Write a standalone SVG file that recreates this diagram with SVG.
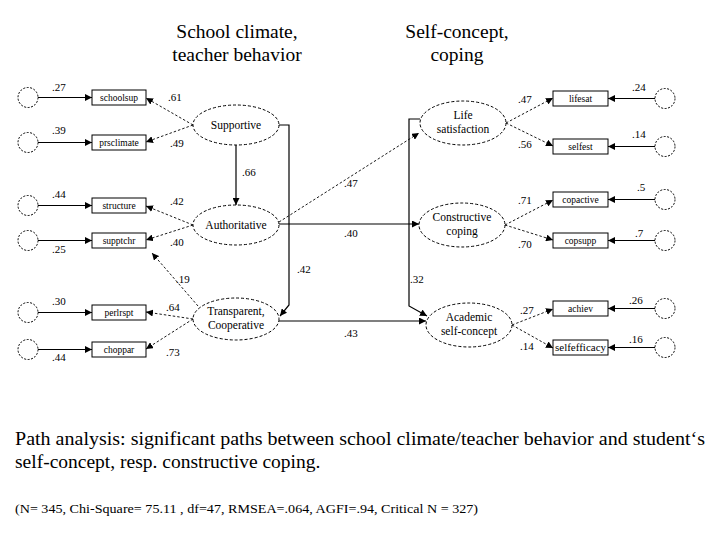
<svg xmlns="http://www.w3.org/2000/svg" width="720" height="540" viewBox="0 0 720 540" font-family="Liberation Serif, serif">
<defs>
<marker id="ah" viewBox="0 0 10 10" refX="10" refY="5" markerWidth="7" markerHeight="7" markerUnits="userSpaceOnUse" orient="auto"><path d="M0,0 L10,5 L0,10 z" fill="#000"/></marker>
</defs>
<style>
.err{fill:none;stroke:#000;stroke-width:1;stroke-dasharray:2,1.5}
.box{fill:#fff;stroke:#000;stroke-width:1}
.lat{fill:#fff;stroke:#000;stroke-width:1;stroke-dasharray:3,2}
.sl{fill:none;stroke:#000;stroke-width:1.2;marker-end:url(#ah)}
.dl{fill:none;stroke:#000;stroke-width:0.9;stroke-dasharray:2.5,2;marker-end:url(#ah)}
.bt{font-size:9.5px;text-anchor:middle}
.lt{font-size:11.5px;text-anchor:middle}
.ct{font-size:11px}
.ti{font-size:19.5px;text-anchor:middle}
.cap{font-size:19.5px}
.st{font-size:13.5px}
</style>
<rect width="720" height="540" fill="#fff"/>
<g id="titles" font-family="Liberation Serif, serif">
<text class="ti" x="237" y="38">School climate,</text>
<text class="ti" x="237" y="61">teacher behavior</text>
<text class="ti" x="457" y="38">Self-concept,</text>
<text class="ti" x="457" y="61">coping</text>
</g>

<g id="connectors">
<line class="sl" x1="38" y1="97.5" x2="92" y2="97.5"/>
<line class="sl" x1="38" y1="142.5" x2="92" y2="142.5"/>
<line class="sl" x1="38" y1="205.5" x2="92" y2="205.5"/>
<line class="sl" x1="38" y1="240.5" x2="92" y2="240.5"/>
<line class="sl" x1="38" y1="312.5" x2="92" y2="312.5"/>
<line class="sl" x1="38" y1="349.5" x2="92" y2="349.5"/>
<line class="sl" x1="655" y1="98.5" x2="608" y2="98.5"/>
<line class="sl" x1="655" y1="146.5" x2="608" y2="146.5"/>
<line class="sl" x1="655" y1="199.5" x2="608" y2="199.5"/>
<line class="sl" x1="655" y1="240.5" x2="608" y2="240.5"/>
<line class="sl" x1="655" y1="308.5" x2="608" y2="308.5"/>
<line class="sl" x1="655" y1="347.5" x2="608" y2="347.5"/>
<line class="dl" x1="193" y1="125" x2="146" y2="98"/>
<line class="dl" x1="193" y1="125" x2="146" y2="142"/>
<line class="dl" x1="193" y1="225" x2="146" y2="206"/>
<line class="dl" x1="193" y1="225" x2="146" y2="240"/>
<line class="dl" x1="193" y1="319" x2="146" y2="312"/>
<line class="dl" x1="193" y1="319" x2="146" y2="349"/>
<line class="dl" x1="506" y1="123" x2="553" y2="98"/>
<line class="dl" x1="506" y1="123" x2="553" y2="146"/>
<line class="dl" x1="505" y1="225" x2="553" y2="200"/>
<line class="dl" x1="505" y1="225" x2="553" y2="240"/>
<line class="dl" x1="512" y1="325" x2="553" y2="309"/>
<line class="dl" x1="512" y1="325" x2="553" y2="348"/>
<line class="sl" x1="236" y1="145" x2="236" y2="205"/>
<path class="sl" d="M279,125 H289 V305 L280,316"/>
<line class="dl" x1="279" y1="222" x2="419" y2="133"/>
<line class="sl" x1="279" y1="224" x2="419" y2="224"/>
<line class="sl" x1="279" y1="321" x2="426" y2="321"/>
<path class="sl" d="M420,119 H409 V306 L427,316"/>
<line class="dl" x1="198" y1="306" x2="152" y2="253"/>
</g>

<g id="labels" font-family="Liberation Serif, serif">
<text class="ct" x="52" y="91">.27</text>
<text class="ct" x="52" y="134">.39</text>
<text class="ct" x="52" y="198">.44</text>
<text class="ct" x="52" y="253">.25</text>
<text class="ct" x="52" y="305">.30</text>
<text class="ct" x="52" y="361">.44</text>
<text class="ct" x="168" y="101">.61</text>
<text class="ct" x="170" y="147">.49</text>
<text class="ct" x="170" y="205">.42</text>
<text class="ct" x="170" y="246">.40</text>
<text class="ct" x="166" y="311">.64</text>
<text class="ct" x="166" y="356">.73</text>
<text class="ct" x="632" y="91">.24</text>
<text class="ct" x="632" y="138">.14</text>
<text class="ct" x="637" y="191">.5</text>
<text class="ct" x="635" y="237">.7</text>
<text class="ct" x="629" y="304">.26</text>
<text class="ct" x="629" y="343">.16</text>
<text class="ct" x="518" y="103">.47</text>
<text class="ct" x="518" y="148">.56</text>
<text class="ct" x="518" y="204">.71</text>
<text class="ct" x="518" y="248">.70</text>
<text class="ct" x="520" y="314">.27</text>
<text class="ct" x="520" y="350">.14</text>
<text class="ct" x="242" y="176">.66</text>
<text class="ct" x="344" y="187">.47</text>
<text class="ct" x="344" y="237">.40</text>
<text class="ct" x="297" y="273">.42</text>
<text class="ct" x="410" y="283">.32</text>
<text class="ct" x="344" y="337">.43</text>
<text class="ct" x="176" y="283">.19</text>
</g>

<g id="err-left">
<circle class="err" cx="28" cy="97.5" r="10"/>
<circle class="err" cx="28" cy="142.5" r="10"/>
<circle class="err" cx="28" cy="205.5" r="10"/>
<circle class="err" cx="28" cy="240.5" r="10"/>
<circle class="err" cx="28" cy="312.5" r="10"/>
<circle class="err" cx="28" cy="349.5" r="10"/>
</g>
<g id="err-right">
<circle class="err" cx="665" cy="98.5" r="10"/>
<circle class="err" cx="665" cy="146.5" r="10"/>
<circle class="err" cx="665" cy="199.5" r="10"/>
<circle class="err" cx="665" cy="240.5" r="10"/>
<circle class="err" cx="665" cy="308.5" r="10"/>
<circle class="err" cx="665" cy="347.5" r="10"/>
</g>

<g id="schoolsup" font-family="Liberation Serif, serif"><rect class="box" x="92" y="90" width="54" height="15"/><text class="bt" x="119" y="101">schoolsup</text></g>
<g id="prsclimate" font-family="Liberation Serif, serif"><rect class="box" x="92" y="135" width="54" height="15"/><text class="bt" x="119" y="146">prsclimate</text></g>
<g id="structure" font-family="Liberation Serif, serif"><rect class="box" x="92" y="198" width="54" height="15"/><text class="bt" x="119" y="209">structure</text></g>
<g id="supptchr" font-family="Liberation Serif, serif"><rect class="box" x="92" y="233" width="54" height="15"/><text class="bt" x="119" y="244">supptchr</text></g>
<g id="perlrspt" font-family="Liberation Serif, serif"><rect class="box" x="92" y="305" width="54" height="15"/><text class="bt" x="119" y="316">perlrspt</text></g>
<g id="choppar" font-family="Liberation Serif, serif"><rect class="box" x="92" y="342" width="54" height="15"/><text class="bt" x="119" y="353">choppar</text></g>

<g id="lifesat" font-family="Liberation Serif, serif"><rect class="box" x="553" y="91" width="55" height="15"/><text class="bt" x="580.5" y="102">lifesat</text></g>
<g id="selfest" font-family="Liberation Serif, serif"><rect class="box" x="553" y="139" width="55" height="15"/><text class="bt" x="580.5" y="150">selfest</text></g>
<g id="copactive" font-family="Liberation Serif, serif"><rect class="box" x="553" y="192" width="55" height="15"/><text class="bt" x="580.5" y="203">copactive</text></g>
<g id="copsupp" font-family="Liberation Serif, serif"><rect class="box" x="553" y="233" width="55" height="15"/><text class="bt" x="580.5" y="244">copsupp</text></g>
<g id="achiev" font-family="Liberation Serif, serif"><rect class="box" x="553" y="301" width="55" height="15"/><text class="bt" x="580.5" y="312">achiev</text></g>
<g id="selfefficacy" font-family="Liberation Serif, serif"><rect class="box" x="553" y="340" width="55" height="15"/><text class="bt" x="580.5" y="351" textLength="51" lengthAdjust="spacingAndGlyphs">selfefficacy</text></g>

<g id="supportive" font-family="Liberation Serif, serif"><ellipse class="lat" cx="236" cy="125" rx="43" ry="20"/><text class="lt" x="236" y="129">Supportive</text></g>
<g id="authoritative" font-family="Liberation Serif, serif"><ellipse class="lat" cx="236" cy="225" rx="43" ry="20"/><text class="lt" x="236" y="229">Authoritative</text></g>
<g id="transparent" font-family="Liberation Serif, serif"><ellipse class="lat" cx="236" cy="319" rx="43" ry="21"/><text class="lt" x="236" y="315">Transparent,</text><text class="lt" x="236" y="329">Cooperative</text></g>
<g id="lifesatisfaction" font-family="Liberation Serif, serif"><ellipse class="lat" cx="463" cy="123" rx="43" ry="22"/><text class="lt" x="463" y="119">Life</text><text class="lt" x="463" y="133">satisfaction</text></g>
<g id="constructive" font-family="Liberation Serif, serif"><ellipse class="lat" cx="462" cy="225" rx="43" ry="22"/><text class="lt" x="462" y="221">Constructive</text><text class="lt" x="462" y="235">coping</text></g>
<g id="academic" font-family="Liberation Serif, serif"><ellipse class="lat" cx="469" cy="325" rx="43" ry="22"/><text class="lt" x="469" y="321">Academic</text><text class="lt" x="469" y="335">self-concept</text></g>

<g id="caption" font-family="Liberation Serif, serif">
<text class="cap" x="15" y="445" textLength="690" lengthAdjust="spacingAndGlyphs">Path analysis: significant paths between school climate/teacher behavior and student‘s</text>
<text class="cap" x="15" y="468">self-concept, resp. constructive coping.</text>
<text class="st" x="15" y="513" textLength="463" lengthAdjust="spacingAndGlyphs">(N= 345, Chi-Square= 75.11 , df=47, RMSEA=.064, AGFI=.94, Critical N = 327)</text>
</g>
</svg>
